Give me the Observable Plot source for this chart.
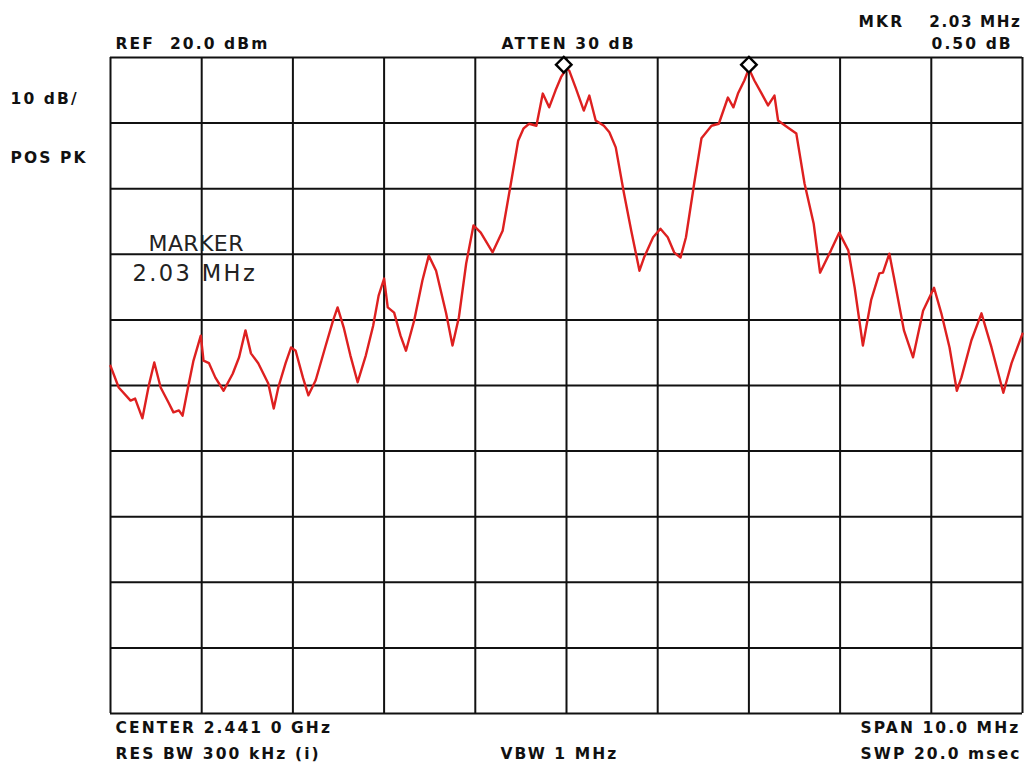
<!DOCTYPE html>
<html>
<head>
<meta charset="utf-8">
<script src="https://cdn.jsdelivr.net/npm/d3@7"></script>
<script src="https://cdn.jsdelivr.net/npm/@observablehq/plot@0.6"></script>
<style>
html, body { margin: 0; padding: 0; background: #fff; }
#chart svg text { letter-spacing: 2.1px; white-space: pre; }
#chart svg g[font-size="22"] text { letter-spacing: 0.4px; }
#chart svg g[font-size="22.5"] text { letter-spacing: 2.4px; }
#chart svg g[font-size="15.2"] text { letter-spacing: 1.6px; }
</style>
</head>
<body>
<div id="chart"></div>
<script>
// Frequency offset from centre (MHz) and level (dBm)
const freqMHz = [-5.00,-4.91,-4.78,-4.73,-4.65,-4.58,-4.52,-4.45,-4.36,-4.31,
  -4.25,-4.21,-4.15,-4.09,-4.01,-3.98,-3.92,-3.85,-3.76,-3.66,
  -3.59,-3.52,-3.46,-3.38,-3.27,-3.21,-3.16,-3.08,-3.02,-2.97,
  -2.89,-2.83,-2.75,-2.64,-2.56,-2.51,-2.44,-2.37,-2.29,-2.20,
  -2.12,-2.06,-2.00,-1.96,-1.89,-1.82,-1.76,-1.67,-1.58,-1.51,
  -1.43,-1.32,-1.25,-1.18,-1.10,-1.02,-0.94,-0.81,-0.70,-0.61,
  -0.53,-0.47,-0.41,-0.33,-0.26,-0.19,-0.12,-0.06,0.00,0.03,
  0.10,0.19,0.25,0.32,0.41,0.47,0.54,0.63,0.71,0.80,
  0.85,0.95,1.03,1.11,1.18,1.25,1.31,1.40,1.48,1.59,
  1.67,1.77,1.83,1.88,1.95,2.00,2.06,2.14,2.21,2.28,
  2.32,2.43,2.52,2.61,2.71,2.78,2.90,2.99,3.09,3.16,
  3.25,3.34,3.43,3.47,3.54,3.59,3.70,3.80,3.91,4.03,
  4.11,4.20,4.28,4.33,4.44,4.55,4.66,4.79,4.88,5.00];
const levelDbm = [-27.0,-30.3,-32.3,-32.0,-35.0,-30.0,-26.5,-30.3,-32.7,-34.1,
  -33.8,-34.6,-30.3,-26.2,-22.4,-26.2,-26.6,-28.8,-30.8,-28.2,
  -25.7,-21.6,-25.1,-26.6,-29.7,-33.5,-30.3,-26.6,-24.2,-24.7,
  -28.8,-31.5,-29.2,-23.9,-20.1,-18.1,-21.3,-25.4,-29.5,-25.4,
  -20.9,-16.3,-13.7,-18.1,-18.9,-22.4,-24.7,-20.1,-14.0,-10.2,
  -12.5,-19.0,-23.9,-19.6,-11.4,-5.6,-6.7,-9.7,-6.4,0.8,
  7.3,9.2,9.9,9.6,14.5,12.4,15.0,17.0,18.3,18.0,
  15.4,11.9,14.2,10.4,9.6,8.6,6.3,-0.7,-6.4,-12.5,
  -10.5,-7.4,-6.1,-7.4,-9.7,-10.5,-7.4,0.8,7.7,9.6,
  9.9,13.9,12.4,14.5,16.5,18.3,16.5,14.5,12.7,14.2,
  10.4,9.3,8.4,0.8,-5.3,-12.8,-9.4,-6.7,-9.4,-15.1,
  -23.9,-17.0,-12.9,-12.8,-9.9,-13.5,-21.6,-25.7,-18.6,-15.1,
  -19.0,-24.2,-30.8,-28.8,-23.1,-19.0,-24.2,-31.1,-26.6,-22.1];

// Graticule (10 divisions each way): 1 MHz/div, 10 dB/div, REF 20 dBm
const gridFreq = [-5,-4,-3,-2,-1,0,1,2,3,4,5];
const gridLevel = [20,10,0,-10,-20,-30,-40,-50,-60,-70,-80];

// Markers
const markerFreq = [-0.03, 2.00];
const markerLevel = [18.9, 18.9];

// Annotation texts
const txtRef = "REF  20.0 dBm";
const txtAtten = "ATTEN 30 dB";
const txtMkr = "MKR";
const txtMkrFreq = "2.03 MHz";
const txtMkrDelta = "0.50 dB";
const txtScale = "10 dB/";
const txtDet = "POS PK";
const txtMarker = "MARKER";
const txtMarkerFreq = "2.03 MHz";
const txtCenter = "CENTER 2.441 0 GHz";
const txtRbw = "RES BW 300 kHz (i)";
const txtVbw = "VBW 1 MHz";
const txtSpan = "SPAN 10.0 MHz";
const txtSwp = "SWP 20.0 msec";

const trace = freqMHz.map((f, i) => ({f, db: levelDbm[i]}));
const markers = markerFreq.map((f, i) => ({f, db: markerLevel[i]}));

const ML = 110, MT = 57;
function label(text, x, baseline, opts = {}) {
  return Plot.text([text], {
    text: d => d,
    frameAnchor: "top-left",
    textAnchor: "start",
    lineAnchor: "bottom",
    dx: x - ML,
    dy: baseline - MT,
    fontSize: 15.5,
    fontWeight: "bold",
    fill: "#111",
    ...opts
  });
}

const chart = Plot.plot({
  width: 1026,
  height: 762,
  marginLeft: ML,
  marginRight: 4,
  marginTop: MT,
  marginBottom: 49,
  x: {domain: [-5, 5], axis: null},
  y: {domain: [-80, 20], axis: null},
  style: {fontFamily: "'DejaVu Sans', sans-serif", background: "#fff", overflow: "visible"},
  marks: [
    Plot.ruleX(gridFreq, {stroke: "#111", strokeWidth: 2}),
    Plot.ruleY(gridLevel, {stroke: "#111", strokeWidth: 2}),
    Plot.line(trace, {x: "f", y: "db", stroke: "#de2020", strokeWidth: 2.4, strokeLinejoin: "round"}),
    Plot.dot(markers, {x: "f", y: "db", symbol: "diamond2", r: 7, stroke: "#000", strokeWidth: 2.4, fill: "#fff"}),
    label(txtRef, 115, 48),
    label(txtAtten, 501, 48),
    label(txtMkr, 858, 26),
    label(txtMkrFreq, 1021, 26, {textAnchor: "end", fontSize: 15.2}),
    label(txtMkrDelta, 931, 48),
    label(txtScale, 10, 103),
    label(txtDet, 10, 162),
    label(txtMarker, 148, 250, {fontSize: 22, fontWeight: "normal", fill: "#222"}),
    label(txtMarkerFreq, 132, 280, {fontSize: 22.5, fontWeight: "normal", fill: "#222"}),
    label(txtCenter, 115, 732),
    label(txtRbw, 115, 758),
    label(txtVbw, 500, 758),
    label(txtSpan, 860, 732),
    label(txtSwp, 860, 758)
  ]
});
document.getElementById("chart").append(chart);
</script>
</body>
</html>
